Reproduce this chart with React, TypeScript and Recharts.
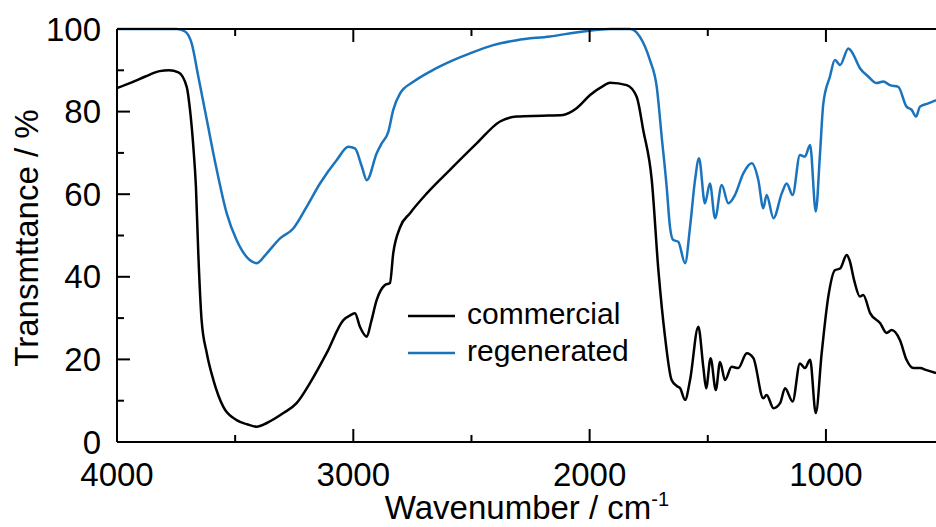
import { LineChart, Line, XAxis, YAxis } from 'recharts'

// wavenumber (cm-1) and transmittance (%)
const commercialWn = [
  4000, 3940, 3880, 3820, 3780, 3740, 3705, 3691, 3677, 3666, 3656, 3642, 3620, 3592, 3550, 3494, 3450,
  3409, 3366, 3296, 3240, 3183, 3113, 3042, 3010, 2993, 2972, 2943, 2925, 2901, 2866, 2845, 2831, 2802,
  2760, 2689, 2591, 2478, 2379, 2308, 2200, 2112, 2055, 1998, 1940, 1914, 1843, 1801, 1773, 1737, 1709,
  1681, 1653, 1630, 1617, 1596, 1575, 1540, 1519, 1507, 1488, 1466, 1448, 1427, 1399, 1371, 1335, 1307,
  1265, 1251, 1222, 1194, 1173, 1141, 1110, 1089, 1067, 1043, 1018, 990, 962, 940, 912, 900, 880, 856,
  842, 813, 771, 743, 722, 687, 659, 630, 602, 574, 534,
]
const commercialT = [
  85.7, 87, 88.5, 89.8, 90, 89.5, 86, 80.4, 71.5, 61.8, 45.7, 29.5, 21.5, 15, 8.5, 5.3, 4.3,
  3.7, 4.6, 7, 9.4, 14.3, 21.5, 29.5, 30.8, 31.2, 27.9, 25.5, 29, 34.4, 38, 38.5, 45.7, 52,
  55.4, 60.2, 65.9, 72.3, 77.6, 78.8, 79, 79.2, 80.8, 84, 86.3, 87, 86.4, 83.6, 75.5, 63.4, 41.6,
  25.5, 15, 13.5, 13, 10.2, 15, 27.9, 18.2, 13, 20.3, 12.6, 19.4, 15, 18.2, 17.9, 21.5, 20.3,
  10.6, 11.4, 8.2, 9.4, 13, 9.8, 19, 17.9, 19.9, 7, 21.5, 35.2, 41.6, 42, 45.3, 44, 39, 35.2,
  35.6, 31.2, 28.8, 26.4, 27.1, 24.7, 19.9, 17.9, 17.9, 17.4, 16.7,
]

const regeneratedWn = [
  4000, 3900, 3800, 3748, 3712, 3684, 3656, 3620, 3578, 3536, 3494, 3437, 3409, 3366, 3310, 3254, 3197,
  3141, 3070, 3021, 2993, 2964, 2943, 2901, 2880, 2852, 2831, 2802, 2746, 2675, 2591, 2506, 2408, 2308,
  2168, 2027, 1914, 1829, 1787, 1745, 1716, 1695, 1674, 1660, 1646, 1625, 1596, 1575, 1554, 1537, 1512,
  1491, 1469, 1441, 1413, 1385, 1350, 1314, 1286, 1265, 1251, 1222, 1187, 1166, 1141, 1110, 1089, 1067,
  1043, 1025, 1011, 983, 962, 940, 905, 891, 856, 821, 785, 757, 729, 694, 659, 637, 619, 602, 567, 534,
]
const regeneratedT = [
  100, 100, 100, 100, 99.4, 96.5, 88.5, 78, 65.9, 55.4, 48.9, 44, 43.3, 45.7, 49.3, 51.7, 57,
  62.6, 68.3, 71.5, 71.1, 66.7, 63.4, 69.9, 72.3, 75.1, 80.4, 84.4, 87.2, 89.7, 92.1, 94.1, 96.1, 97.3,
  98.2, 99.4, 100, 100, 98.1, 92.5, 86, 73.9, 61.8, 52.1, 48.9, 48.5, 43.3, 52.1, 63.4, 68.7, 57.8,
  62.6, 54.2, 62.2, 57.8, 59.8, 65, 67.5, 63.4, 56.6, 59.8, 54.2, 60.2, 62.6, 59.8, 69.5, 69.1, 71.9,
  55.8, 69.9, 82, 88.5, 92.5, 91.3, 95.3, 94.5, 90.5, 88.5, 86.9, 87.3, 86.4, 86, 81.2, 80.4, 78.8, 81.2, 82, 82.8,
]

const xTicks = [4000, 3500, 3000, 2500, 2000, 1500, 1000]
const yTicks = [0, 10, 20, 30, 40, 50, 60, 70, 80, 90, 100]

const FONT = 'Arial, "Liberation Sans", sans-serif'
const BLUE = '#1a74bd'
const MAJOR = 13
const MINOR = 7

const commercial = commercialWn.map((wn, i) => ({ wn, t: commercialT[i] }))
const regenerated = regeneratedWn.map((wn, i) => ({ wn, t: regeneratedT[i] }))

const BottomTick = ({ x, y, payload }: any) => {
  const major = payload.value % 1000 === 0
  return (
    <g>
      <line x1={x} x2={x} y1={y} y2={y - (major ? MAJOR : MINOR)} stroke="#000" strokeWidth={2} />
      {major && (
        <text x={x} y={y + 44} textAnchor="middle" fontSize={33} fontFamily={FONT} fill="#000">
          {payload.value}
        </text>
      )}
    </g>
  )
}

const TopTick = ({ x, y, payload }: any) => {
  const major = payload.value % 1000 === 0
  return <line x1={x} x2={x} y1={y} y2={y + (major ? MAJOR : MINOR)} stroke="#000" strokeWidth={2} />
}

const LeftTick = ({ x, y, payload }: any) => {
  const major = payload.value % 20 === 0
  return (
    <g>
      <line x1={x} x2={x + (major ? MAJOR : MINOR)} y1={y} y2={y} stroke="#000" strokeWidth={2} />
      {major && (
        <text x={x - 16} y={y + 11.5} textAnchor="end" fontSize={33} fontFamily={FONT} fill="#000">
          {payload.value}
        </text>
      )}
    </g>
  )
}

const RightTick = ({ x, y, payload }: any) => {
  const major = payload.value % 20 === 0
  return <line x1={x} x2={x - (major ? MAJOR : MINOR)} y1={y} y2={y} stroke="#000" strokeWidth={2} />
}

export default function App() {
  return (
    <div
      style={{
        position: 'absolute',
        left: 0,
        top: 0,
        width: 936,
        height: 527,
        overflow: 'hidden',
        background: '#fff',
      }}
    >
      <LineChart width={940} height={527} margin={{ top: 0, right: 0, bottom: 0, left: 0 }}>
        <XAxis
          xAxisId="bottom"
          dataKey="wn"
          type="number"
          domain={[530, 4000]}
          reversed
          allowDataOverflow
          ticks={xTicks}
          interval={0}
          height={85}
          tickSize={0}
          tickMargin={0}
          tickLine={false}
          axisLine={{ stroke: '#000', strokeWidth: 2 }}
          tick={<BottomTick />}
        />
        <XAxis
          xAxisId="top"
          orientation="top"
          dataKey="wn"
          type="number"
          domain={[530, 4000]}
          reversed
          allowDataOverflow
          ticks={xTicks}
          interval={0}
          height={29}
          tickSize={0}
          tickMargin={0}
          tickLine={false}
          axisLine={{ stroke: '#000', strokeWidth: 2 }}
          tick={<TopTick />}
        />
        <YAxis
          yAxisId="left"
          type="number"
          domain={[0, 100]}
          ticks={yTicks}
          interval={0}
          width={117}
          tickSize={0}
          tickMargin={0}
          tickLine={false}
          axisLine={{ stroke: '#000', strokeWidth: 2 }}
          tick={<LeftTick />}
        />
        <YAxis
          yAxisId="right"
          orientation="right"
          type="number"
          domain={[0, 100]}
          ticks={yTicks}
          interval={0}
          width={3}
          tickSize={0}
          tickMargin={0}
          tickLine={false}
          axisLine={{ stroke: '#000', strokeWidth: 2 }}
          tick={<RightTick />}
        />
        <Line
          xAxisId="bottom"
          yAxisId="left"
          data={commercial}
          dataKey="t"
          type="monotone"
          stroke="#000"
          strokeWidth={2.5}
          dot={false}
          isAnimationActive={false}
        />
        <Line
          xAxisId="bottom"
          yAxisId="left"
          data={regenerated}
          dataKey="t"
          type="monotone"
          stroke={BLUE}
          strokeWidth={2.5}
          dot={false}
          isAnimationActive={false}
        />
      </LineChart>

      {/* axis titles and legend */}
      <svg
        width={936}
        height={527}
        style={{ position: 'absolute', left: 0, top: 0, pointerEvents: 'none' }}
        fontFamily={FONT}
      >
        <text x={527} y={519} textAnchor="middle" fontSize={33} fill="#000">
          Wavenumber / cm
          <tspan fontSize={20} dy={-13}>
            -1
          </tspan>
        </text>
        <text
          x={38}
          y={238}
          textAnchor="middle"
          fontSize={33}
          fill="#000"
          transform="rotate(-90 38 238)"
        >
          Transmttance / %
        </text>
        <line x1={408} x2={455} y1={316} y2={316} stroke="#000" strokeWidth={2.5} />
        <text x={467} y={324} fontSize={30} fill="#000">
          commercial
        </text>
        <line x1={408} x2={455} y1={353} y2={353} stroke={BLUE} strokeWidth={2.5} />
        <text x={467} y={361} fontSize={30} fill="#000">
          regenerated
        </text>
      </svg>
    </div>
  )
}
